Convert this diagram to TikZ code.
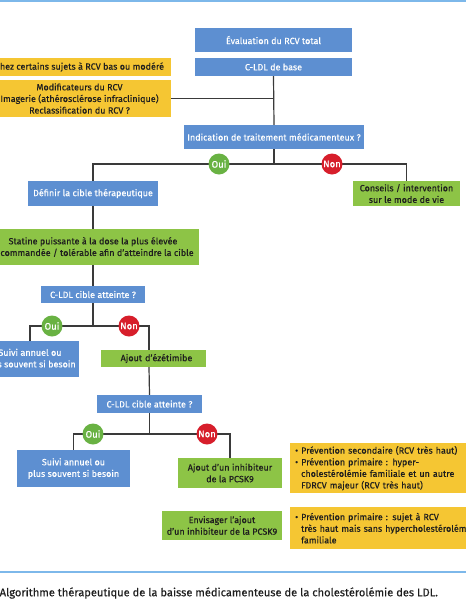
\documentclass[tikz,border=0pt]{standalone}
\usepackage{fontspec}
\setmainfont{Fira Sans}
\newfontfamily\boxfont{Fira Sans}[FakeBold=0.35]
\definecolor{cblue}{HTML}{5D8FD1}
\definecolor{cgreen}{HTML}{8DC446}
\definecolor{cyellow}{HTML}{F5C633}
\definecolor{coui}{HTML}{69B243}
\definecolor{cnon}{HTML}{D71E2B}
\definecolor{cline}{HTML}{7DB8EA}
\definecolor{ctext}{HTML}{1E1E1E}
\definecolor{cconn}{HTML}{3A3A3A}
\newcommand{\fsbox}{\boxfont\fontsize{9}{11.6}\selectfont}
\tikzset{
  box/.style={draw=none, inner sep=1pt, align=center, font=\fsbox},
  bluebox/.style={box, fill=cblue, text=white},
  greenbox/.style={box, fill=cgreen, text=ctext},
  yellowbox/.style={box, fill=cyellow, text=ctext},
  yesno/.style={circle, inner sep=0pt, minimum size=21pt, text=white, font=\boxfont\fontsize{9.5}{10}\selectfont},
  conn/.style={draw=cconn, line width=1.2pt},
  rule/.style={draw=cline, line width=2pt}
}
\begin{document}
\begin{tikzpicture}[x=1pt,y=1pt]
\useasboundingbox (0,0) rectangle (466,-600);
\clip (0,0) rectangle (466,-600);
\fill[white] (0,0) rectangle (466,-600);
% rules
\coordinate (t1) at (0,-1);
\coordinate (t2) at (466,-1);
\coordinate (b1) at (0,-572);
\coordinate (b2) at (466,-572);
\draw[rule] (t1) -- (t2);
\draw[rule] (b1) -- (b2);
% nodes
\node[bluebox, minimum width=157pt, minimum height=24pt] (eval) at (273.5,-40) {Évaluation du RCV total};
\node[bluebox, minimum width=157pt, minimum height=18pt] (cldl) at (273.5,-67) {C-LDL de base};
\node[yellowbox, minimum width=183pt, minimum height=18pt] (chez) at (79.5,-67) {Chez certains sujets à RCV bas ou modéré};
\node[yellowbox, minimum width=183pt, minimum height=37pt] (modif) at (79.5,-98.5) {Modificateurs du RCV\\Imagerie (athérosclérose infraclinique)\\Reclassification du RCV ?};
\node[bluebox, minimum width=180pt, minimum height=24pt] (ind) at (274,-137) {Indication de traitement médicamenteux ?};
\node[bluebox, minimum width=130pt, minimum height=25pt] (def) at (93,-193.5) {Définir la cible thérapeutique};
\node[greenbox, minimum width=107pt, minimum height=25pt] (cons) at (406.5,-193.5) {Conseils / intervention\\sur le mode de vie};
\node[greenbox, minimum width=212pt, minimum height=36pt] (stat) at (93,-247) {Statine puissante à la dose la plus élevée\\recommandée / tolérable afin d’atteindre la cible};
\node[bluebox, minimum width=104pt, minimum height=17pt] (cib1) at (93,-294.5) {C-LDL cible atteinte ?};
\node[bluebox, minimum width=98pt, minimum height=36pt] (suivi1) at (30,-359) {Suivi annuel ou\\plus souvent si besoin};
\node[greenbox, minimum width=105pt, minimum height=17pt, text width=97pt, inner xsep=4pt] (ajout) at (153.5,-358.5) {\hspace*{6pt}Ajout d’ézétimibe};
\node[bluebox, minimum width=105pt, minimum height=18pt] (cib2) at (149.5,-404) {C-LDL cible atteinte ?};
\node[bluebox, minimum width=113pt, minimum height=37pt] (suivi2) at (73.5,-468.5) {Suivi annuel ou\\plus souvent si besoin};
\node[greenbox, minimum width=104pt, minimum height=30pt] (pcsk) at (230,-473) {Ajout d’un inhibiteur\\de la PCSK9};
\node[greenbox, minimum width=120pt, minimum height=29pt] (env) at (222,-525.5) {Envisager l’ajout\\d’un inhibiteur de la PCSK9};
\node[yellowbox, anchor=north west, minimum width=185pt, minimum height=50pt, text width=180pt, align=left, inner xsep=5pt] (y1) at (290,-443)
  {• Prévention secondaire (RCV très haut)\\• Prévention primaire : hyper-\\\hphantom{• }cholestérolémie familiale et un autre\\\hphantom{• }FDRCV majeur (RCV très haut)};
\node[yellowbox, anchor=north west, minimum width=185pt, minimum height=42pt, text width=180pt, align=left, inner xsep=5pt] (y2) at (290,-507)
  {• Prévention primaire : sujet à RCV\\\hphantom{• }très haut mais sans hypercholestérolémie\\\hphantom{• }familiale};
% junctions
\coordinate (jm) at (274,-98.5);
\coordinate (j1) at (274,-164);
\coordinate (j2) at (93,-326);
\coordinate (j3) at (149.5,-434);
% connectors
\draw[conn] (cldl.south) -- (ind.north);
\draw[conn] (modif.east) -- (jm);
\draw[conn] (ind.south) -- (j1);
\draw[conn] (def.north) |- (j1) -| (cons.north);
\draw[conn] (def.south) -- (stat.north);
\draw[conn] (stat.south) -- (cib1.north);
\draw[conn] (cib1.south) -- (j2);
\draw[conn] (suivi1.north) |- (j2);
\draw[conn] (j2) -| ([xshift=-4.5pt]ajout.north);
\draw[conn] ([xshift=-4.5pt]ajout.south) -- (cib2.north);
\draw[conn] (cib2.south) -- (j3);
\draw[conn] (suivi2.north) |- (j3) -| (pcsk.north);
% yes / no
\node[yesno, fill=coui] (oui1) at (219,-164) {Oui};
\node[yesno, fill=cnon] (non1) at (332,-164) {Non};
\node[yesno, fill=coui] (oui2) at (52,-326) {Oui};
\node[yesno, fill=cnon] (non2) at (129,-326) {Non};
\node[yesno, fill=coui] (oui3) at (93,-434) {Oui};
\node[yesno, fill=cnon] (non3) at (207,-434) {Non};
% caption
\node[anchor=west, inner sep=0pt, text=ctext, font=\boxfont\fontsize{11.1}{12}\selectfont] (cap) at (-0.5,-593) {Algorithme thérapeutique de la baisse médicamenteuse de la cholestérolémie des LDL.};
\end{tikzpicture}
\end{document}
